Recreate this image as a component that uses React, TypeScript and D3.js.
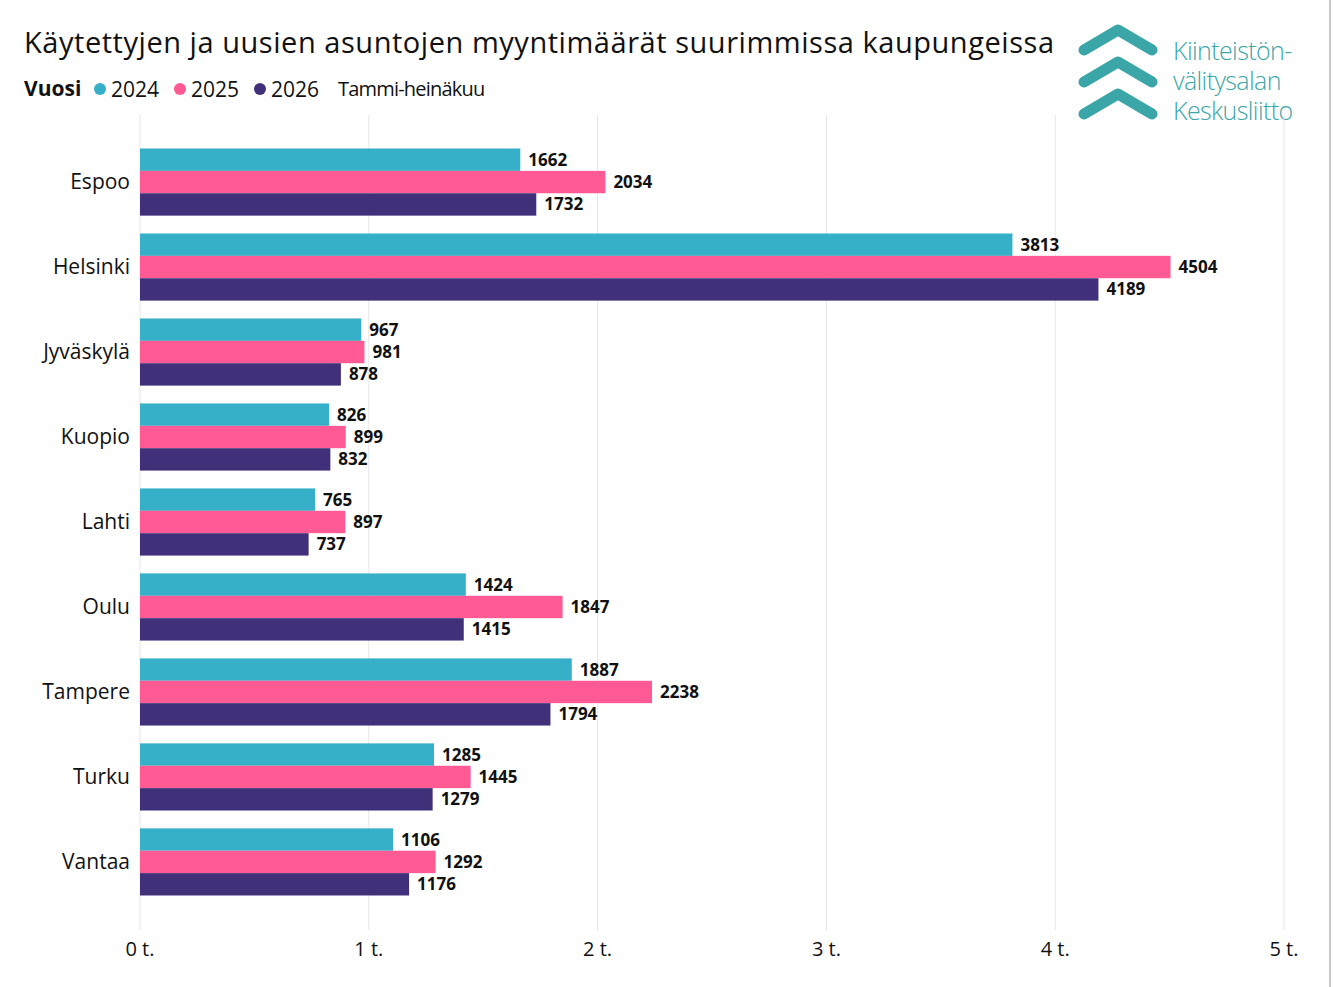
import { scaleLinear, scaleBand } from 'd3';

const cities = ['Espoo', 'Helsinki', 'Jyväskylä', 'Kuopio', 'Lahti', 'Oulu', 'Tampere', 'Turku', 'Vantaa'];
const years = ['2024', '2025', '2026'];
const v2024 = [1662, 3813, 967, 826, 765, 1424, 1887, 1285, 1106];
const v2025 = [2034, 4504, 981, 899, 897, 1847, 2238, 1445, 1292];
const v2026 = [1732, 4189, 878, 832, 737, 1415, 1794, 1279, 1176];
const xTicks = [0, 1000, 2000, 3000, 4000, 5000];
const tickLabels = ['0 t.', '1 t.', '2 t.', '3 t.', '4 t.', '5 t.'];
const colors = ['#35b0c8', '#ff5a93', '#40307a'];
const logoLines = ['Kiinteistön-', 'välitysalan', 'Keskusliitto'];

const W = 1333;
const H = 987;
const FONT = '"Open Sans", "Noto Sans", sans-serif';

const App = () => {
  const series = [v2024, v2025, v2026];
  const x = scaleLinear().domain([0, 5000]).range([140, 1284]);
  const y = scaleBand().domain(cities).range([140, 904]).paddingInner(0.21).paddingOuter(0.1);
  const inner = scaleBand().domain(years).range([0, y.bandwidth()]);

  return (
    <svg width={W} height={H} style={{ position: 'absolute', left: 0, top: 0, background: '#fff' }} fontFamily={FONT}>
      <line x1={1330} x2={1330} y1={0} y2={H} stroke="#c8c8c8" strokeWidth={2} />
      <text x={24} y={53} fontSize={29} fill="#111" textLength={1030} lengthAdjust="spacing">Käytettyjen ja uusien asuntojen myyntimäärät suurimmissa kaupungeissa</text>
      <text x={24} y={96} fontSize={21} fill="#111" fontWeight="bold">Vuosi</text>
      {years.map((yr, i) => (
        <g key={yr} transform={`translate(${100 + i * 80},89)`}>
          <circle cx={0} cy={0} r={6} fill={colors[i]} />
          <text x={11} y={8} fontSize={21} fill="#111">{yr}</text>
        </g>
      ))}
      <text x={338} y={96} fontSize={20} fill="#111" letterSpacing={-0.8}>Tammi-heinäkuu</text>

      {/* logo */}
      {[0, 1, 2].map((i) => (
        <path key={i} d={`M1084,${50 + i * 32} L1118,${30 + i * 32} L1152,${50 + i * 32}`}
          fill="none" stroke="#3aa6a8" strokeWidth={11} strokeLinecap="round" strokeLinejoin="round" />
      ))}
      {logoLines.map((t, i) => (
        <text key={t} x={1173} y={60 + i * 30} fontSize={25} fill="#3aa6a8" fontWeight={300} letterSpacing={-0.6}>{t}</text>
      ))}

      {xTicks.map((t, i) => (
        <g key={t}>
          <line x1={x(t)} x2={x(t)} y1={115} y2={930} stroke="#e6e6e6" />
          <text x={x(t)} y={956} fontSize={20} textAnchor="middle" fill="#111">{tickLabels[i]}</text>
        </g>
      ))}

      {cities.map((c, ci) => (
        <g key={c}>
          <text x={130} y={(y(c) ?? 0) + y.bandwidth() / 2 + 7} fontSize={21} textAnchor="end" fill="#111">{c}</text>
          {series.map((s, si) => {
            const by = (y(c) ?? 0) + (inner(years[si]) ?? 0);
            return (
              <g key={si}>
                <rect x={x(0)} y={by} width={x(s[ci]) - x(0)} height={inner.bandwidth()} fill={colors[si]} />
                <text x={x(s[ci]) + 8} y={by + inner.bandwidth() / 2 + 6} fontSize={17} fontWeight="bold" fill="#111">{s[ci]}</text>
              </g>
            );
          })}
        </g>
      ))}
    </svg>
  );
};

export default App;
